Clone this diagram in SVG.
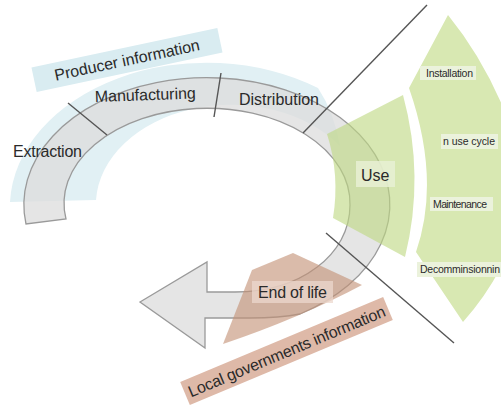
<svg xmlns="http://www.w3.org/2000/svg" width="501" height="405" viewBox="0 0 501 405">
<defs>
<style>
.lbl{font-family:"Liberation Sans",Arial,sans-serif;font-size:16px;fill:#2a2a2a}
.sm{font-family:"Liberation Sans",Arial,sans-serif;font-size:10.5px;fill:#2a2a2a}
.sep{stroke:#555;stroke-width:1.4;fill:none}
.box{fill:#ebf2dc}
</style>
</defs>
<rect width="501" height="405" fill="#fff"/>
<g id="producer-zone">
<path d="M 10,202 A 197 145 0 0 1 318,88 Q 334,112 340,146 A 135 100 0 0 0 96,200 Z" fill="#e1f0f4"/>
</g>
<g id="cycle">
<path d="M 26,224 A 183 127 0 1 1 300,314 Q 280,318 250,318 L 205,318 L 205,348 L 140,302 L 207,262 L 207,292 L 235,292 C 300,292 350,255 350,205 A 143 95 0 1 0 66,219 Z" fill="#dcdcdc" fill-opacity="0.75" stroke="#9a9a9a" stroke-width="1.3"/>
</g>
<g id="producer-information">
<g transform="rotate(-12 127 60)">
<rect x="32" y="47.5" width="190" height="25" fill="#d9ecf1"/>
<text class="lbl" x="127" y="65.5" text-anchor="middle" textLength="148">Producer information</text>
</g>
</g>
<g id="local-governments-information">
<g transform="rotate(-22.7 286.5 351)">
<rect x="176.5" y="338.5" width="220" height="25" fill="#deb9a8"/>
<text class="lbl" x="286.5" y="357" text-anchor="middle" textLength="212">Local governments information</text>
</g>
</g>
<g id="end-of-life">
<path d="M 252,270 L 293,253 L 362,285 Q 300,318 223,344 Z" fill="#c49276" fill-opacity="0.62"/>
<rect x="252" y="281" width="81" height="22" fill="#ecd8ce" fill-opacity="0.75"/>
<text class="lbl" x="258" y="298" textLength="69">End of life</text>
</g>
<g id="use">
<path d="M 327,134 L 403,95 Q 425,176 405,257 L 333,218 Q 340,175 327,134 Z" fill="#bed882" fill-opacity="0.62"/>
<rect x="356" y="161" width="39" height="26" fill="#e8f0d4" fill-opacity="0.85"/>
<text class="lbl" x="361" y="181">Use</text>
</g>
<g id="use-phases">
<path d="M 448,15 Q 505,85 530,190 Q 510,270 463,322 L 416,252 Q 441,180 409,88 Z" fill="#d8e8b2"/>
</g>
<g id="installation">
<rect class="box" x="420" y="66" width="56" height="14"/>
<text class="sm" x="426" y="77" textLength="47">Installation</text>
</g>
<g id="in-use-cycle">
<rect class="box" x="441" y="134" width="57" height="15"/>
<text class="sm" x="443" y="145" textLength="52">n use cycle</text>
</g>
<g id="maintenance">
<rect class="box" x="430" y="197" width="63" height="14"/>
<text class="sm" x="433" y="208" textLength="54">Maintenance</text>
</g>
<g id="decommissioning">
<rect class="box" x="417" y="262" width="84" height="15"/>
<text class="sm" x="420" y="273" textLength="80">Decomminsionnin</text>
</g>
<g id="extraction">
<text class="lbl" x="13" y="157" textLength="69">Extraction</text>
</g>
<g id="manufacturing">
<text class="lbl" x="95" y="102" textLength="101" transform="rotate(-2 95 102)">Manufacturing</text>
</g>
<g id="distribution">
<text class="lbl" x="239" y="105" textLength="80">Distribution</text>
</g>
<g id="connectors">
<line class="sep" x1="68" y1="103" x2="107" y2="135"/>
<line class="sep" x1="221" y1="73" x2="214" y2="117"/>
<line class="sep" x1="427" y1="5" x2="303" y2="133"/>
<line class="sep" x1="326" y1="233" x2="454" y2="343"/>
</g>
</svg>
